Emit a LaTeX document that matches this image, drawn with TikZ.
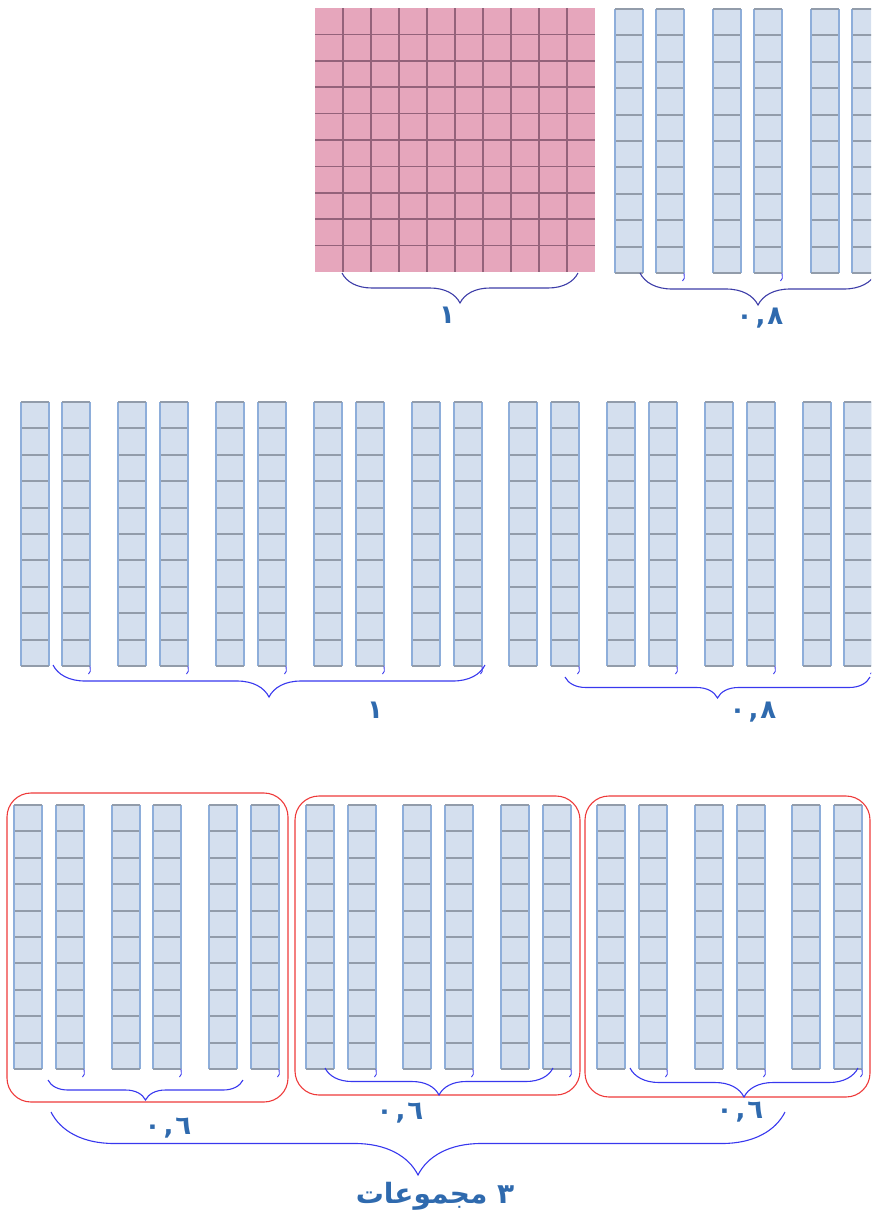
\documentclass[tikz,border=0pt]{standalone}
\usepackage{fontspec}
\usetikzlibrary{decorations.pathreplacing}
\newfontfamily\arabicfont[Script=Arabic]{DejaVu Sans}
\TeXXeTstate=1
\definecolor{pinkfill}{HTML}{E6A6BC}
\definecolor{pinkline}{HTML}{94627A}
\definecolor{rodfill}{HTML}{D4DFEE}
\definecolor{rodedge}{HTML}{8EAEDA}
\definecolor{roddiv}{HTML}{929CAA}
\definecolor{navybrace}{HTML}{3D3DA8}
\definecolor{bluebrace}{HTML}{3838EE}
\definecolor{redbox}{HTML}{EE3A3A}
\definecolor{labelblue}{HTML}{2F6AAE}
\tikzset{
  tenrod/.pic={
    \fill[rodfill] (0,0) rectangle (28,264);
    \foreach \k in {1,...,9} \draw[roddiv,line width=2pt] (0,\k*26.4) -- (28,\k*26.4);
    \draw[rodedge,line width=1.4pt] (0,0) -- (0,264) (28,0) -- (28,264);
    \draw[roddiv,line width=2pt] (0,0) -- (28,0) (0,264) -- (28,264);
  },
  tenrodt/.pic={
    \pic {tenrod};
    \draw[bluebrace,line width=0.9pt] (28,264) .. controls (28.5,270) .. (26.5,272);
  },
  bracedraw/.style={decorate, decoration={brace, mirror, amplitude=#1}, line width=1.1pt},
  groupbox/.style={draw=redbox, line width=1.1pt, rounded corners=24pt, inner sep=0pt, outer sep=0pt},
  lbl/.style={text=labelblue, font=\arabicfont\bfseries\fontsize{26}{30}\selectfont, inner sep=0pt},
  biglbl/.style={text=labelblue, font=\arabicfont\bfseries\fontsize{28}{32}\selectfont, inner sep=0pt},
}
\begin{document}
\begin{tikzpicture}[x=1pt,y=-1pt]
\useasboundingbox (0,0) rectangle (871,1218);
\clip (0,0) rectangle (871,1218);

% ---------- top row ----------
\fill[pinkfill] (315,8) rectangle (595,272);
\foreach \i in {1,...,9} {
  \draw[pinkline,line width=1.6pt] (315+\i*28,8) -- (315+\i*28,272);
  \draw[pinkline,line width=1.6pt] (315,8+\i*26.4) -- (595,8+\i*26.4);
}
\foreach \x in {615,713,811,909} \pic at (\x,9) {tenrod};
\foreach \x in {656,754,852,950} \pic at (\x,9) {tenrodt};

\coordinate (b1s) at (342,273); \coordinate (b1e) at (578,273);
\draw[navybrace,bracedraw=30] (b1s) -- (b1e);
\node[lbl] (l1) at (447,315) {١};

\coordinate (b2s) at (640,273); \coordinate (b2e) at (876,273);
\draw[navybrace,bracedraw=32] (b2s) -- (b2e);
\node[lbl] (l2) at (760,318) {٠\hspace{3pt},\hspace{2pt}٨};

% ---------- middle row ----------
\foreach \x in {21,118,216,314,412,509,607,705,803} \pic at (\x,402) {tenrod};
\foreach \x in {62,160,258,356,454,551,649,747,844} \pic at (\x,402) {tenrodt};

\coordinate (b3s) at (53,665); \coordinate (b3e) at (485,665);
\draw[bluebrace,bracedraw=32] (b3s) -- (b3e);
\node[lbl] (l3) at (375,710) {١};

\coordinate (b4s) at (565,677); \coordinate (b4e) at (870,677);
\draw[bluebrace,bracedraw=21] (b4s) -- (b4e);
\node[lbl] (l4) at (753,712) {٠\hspace{3pt},\hspace{2pt}٨};

% ---------- bottom row ----------
\node[groupbox, minimum width=281pt, minimum height=309pt] (g1) at (147.5,947.5) {};
\node[groupbox, minimum width=285pt, minimum height=299pt] (g2) at (437.5,945.5) {};
\node[groupbox, minimum width=285pt, minimum height=301pt] (g3) at (727.5,946.5) {};

\foreach \x in {14,112,209,306,403,501,597,695,792} \pic at (\x,805) {tenrod};
\foreach \x in {56,153,251,348,445,543,639,737,834} \pic at (\x,805) {tenrodt};

\coordinate (b5s) at (48,1080); \coordinate (b5e) at (243,1080);
\draw[bluebrace,bracedraw=20] (b5s) -- (b5e);
\node[lbl] (l5) at (168,1128) {٠\hspace{3pt},\hspace{2pt}٦};

\coordinate (b6s) at (325,1068); \coordinate (b6e) at (553,1068);
\draw[bluebrace,bracedraw=27] (b6s) -- (b6e);
\node[lbl] (l6) at (400,1113) {٠\hspace{3pt},\hspace{2pt}٦};

\coordinate (b7s) at (630,1068); \coordinate (b7e) at (858,1068);
\draw[bluebrace,bracedraw=29] (b7s) -- (b7e);
\node[lbl] (l7) at (740,1112) {٠\hspace{3pt},\hspace{2pt}٦};

\coordinate (b8s) at (51,1112); \coordinate (b8e) at (785,1112);
\draw[bluebrace,bracedraw=63] (b8s) -- (b8e);
\node[biglbl] (l8) at (435,1196) {\beginR ٣ مجموعات\endR};
\end{tikzpicture}
\end{document}
